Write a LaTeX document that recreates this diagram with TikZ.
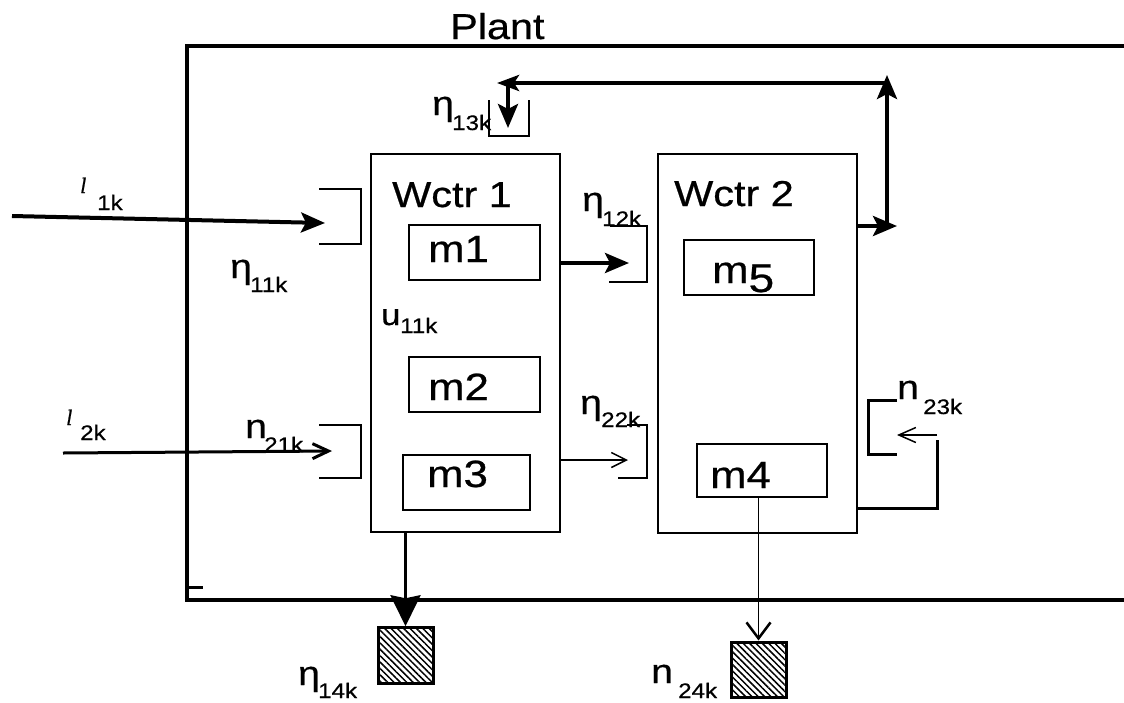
\documentclass[tikz,border=0pt]{standalone}
\usepackage{fontspec}
\setmainfont{Liberation Sans}[FakeStretch=1.15,FakeBold=0.6]
\newfontfamily\lserif{Liberation Serif}[FakeBold=0.6]
\usetikzlibrary{arrows.meta,patterns.meta}
\newcommand\bigf{\fontsize{36}{36}\selectfont}
\newcommand\letf{\fontsize{34}{34}\selectfont}
\newcommand\subf{\fontsize{21}{21}\selectfont}
\newcommand\mf{\fontsize{38}{38}\selectfont}
\newcommand\elf{\lserif\itshape\fontsize{22}{22}\selectfont}
\begin{document}
\begin{tikzpicture}[x=1pt,y=-1pt,
  thickln/.style={line width=4pt},
  medln/.style={line width=3pt},
  thinln/.style={line width=1.5pt},
  boxst/.style={draw,line width=1.6pt,inner sep=0pt},
  mboxst/.style={draw,line width=2pt,inner sep=0pt},
  hatchst/.style={draw,line width=3pt,inner sep=0pt,pattern={Lines[angle=-45,distance=4.5pt,line width=1.5pt]}},
  lab/.style={inner sep=0pt,anchor=base west},
  thickarr/.style={thickln,-{Stealth[length=24pt,width=20pt,inset=5pt]}},
  thinarr/.style={thinln,-{Straight Barb[length=15pt,width=15pt]}}]
\useasboundingbox (0,0) rectangle (1124,702);
\fill[white] (0,0) rectangle (1124,702);

% plant frame
\coordinate (ptr) at (1130,46); \coordinate (ptl) at (187,46);
\coordinate (pbl) at (187,600); \coordinate (pbr) at (1130,600);
\draw[thickln] (ptr) -- (ptl) -- (pbl) -- (pbr);
\draw[medln] (187,587) -- (203,587);
\node[lab] (plant) at (450,39) {\bigf Plant};

% work centres
\node[boxst,minimum width=189pt,minimum height=378pt] (wc1) at (465.5,343) {};
\node[boxst,minimum width=199pt,minimum height=379pt] (wc2) at (757.5,343.5) {};
\node[lab] (wc1t) at (392,207) {\bigf Wctr 1};
\node[lab] (wc2t) at (674,206) {\bigf Wctr 2};

% machines
\node[mboxst,minimum width=131pt,minimum height=55pt] (m1) at (474.5,252.5) {};
\node[mboxst,minimum width=131pt,minimum height=55pt] (m2) at (474.5,384.5) {};
\node[mboxst,minimum width=127pt,minimum height=55pt] (m3) at (466.5,482.5) {};
\node[mboxst,minimum width=130pt,minimum height=55pt] (m5) at (749,267.5) {};
\node[mboxst,minimum width=130pt,minimum height=53pt] (m4) at (762,470.5) {};
\node[lab] (m1t) at (428,262) {\mf m1};
\node[lab] (m2t) at (428,400) {\mf m2};
\node[lab] (m3t) at (427,487) {\mf m3};
\node[lab] (m4t) at (710,488) {\mf m4};
\node[lab] (m5t) at (712,283) {\mf m\raisebox{-9pt}{\fontsize{40}{40}\selectfont 5}};

% brackets
\draw[thinln] (319,189) -- (361,189) -- (361,244) -- (319,244);
\draw[thinln] (319,425) -- (361,425) -- (361,478) -- (319,478);
\draw[thinln] (610,226) -- (647,226) -- (647,282) -- (609,282);
\draw[thinln] (627,425) -- (647,425) -- (647,478) -- (618,478);
\draw[thinln] (489,100) -- (489,136) -- (529,136) -- (529,100);
\draw[medln] (897,400) -- (868,400) -- (868,454) -- (897,454);

% inputs
\coordinate (l1s) at (12,216); \coordinate (l1e) at (325,223);
\draw[thickarr] (l1s) -- (l1e);
\coordinate (l2s) at (63,453); \coordinate (l2e) at (332,451);
\draw[medln,-{Straight Barb[length=16pt,width=15pt]}] (l2s) -- (l2e);

% flows between centres
\coordinate (a12) at (629,263);
\draw[thickarr] (wc1.east |- a12) -- (a12);
\coordinate (a22) at (628,460);
\draw[thinarr] (wc1.east |- a22) -- (a22);

% feedback from Wctr 2 to top
\coordinate (a3e) at (897,226);
\draw[thickarr] (wc2.east |- a3e) -- (a3e);
\coordinate (vb) at (887,226); \coordinate (vt) at (887,75);
\draw[thickarr] (vb) -- (vt);
\coordinate (hr) at (887,83); \coordinate (hl) at (497,83);
\draw[thickln,-{Stealth[length=22pt,width=16pt,inset=5pt]}] (hr) -- (hl);
\coordinate (dt) at (508,83); \coordinate (db) at (508,128);
\draw[thickarr] (dt) -- (db);

% n23k loop
\coordinate (f1) at (937,508); \coordinate (f2) at (937,440);
\draw[medln] (wc2.east |- f1) -- (f1) -- (f2);
\coordinate (r1) at (937,435); \coordinate (r2) at (897,435);
\draw[thinln,-{Straight Barb[length=17pt,width=15pt]}] (r1) -- (r2);

% outputs
\node[hatchst,minimum width=55pt,minimum height=56pt] (h14) at (405.5,655) {};
\draw[medln,-{Stealth[length=31pt,width=30pt,inset=3pt]}] (h14.north |- wc1.south) -- (h14.north);
\node[hatchst,minimum width=55pt,minimum height=55pt] (h24) at (758.5,669.5) {};
\draw[thinln,-{Straight Barb[length=16pt,width=24pt,line width=2.5pt]}] (h24.north |- m4.south) -- (h24.north);

% labels
\node[lab] (l1a) at (80,193) {\elf l};
\node[lab] (l1b) at (97,210) {\subf 1k};
\node[lab] (l2a) at (66,425) {\elf l};
\node[lab] (l2b) at (80,440) {\subf 2k};
\node[lab] (e11a) at (230,278) {\letf η};
\node[lab] (e11b) at (250,292) {\subf 11k};
\node[lab] (n21a) at (245,438) {\letf n};
\node[lab] (n21b) at (264,452) {\subf 21k};
\node[lab] (u11a) at (381,325) {\fontsize{30}{30}\selectfont u};
\node[lab] (u11b) at (400,333) {\subf 11k};
\node[lab] (e12a) at (582,211) {\letf η};
\node[lab] (e12b) at (602,226) {\subf 12k};
\node[lab] (e22a) at (580,414) {\letf η};
\node[lab] (e22b) at (601,427) {\subf 22k};
\node[lab] (e13a) at (432,115) {\letf η};
\node[lab] (e13b) at (452,130) {\subf 13k};
\node[lab] (n23a) at (897,399) {\letf n};
\node[lab] (n23b) at (923,414) {\subf 23k};
\node[lab] (e14a) at (298,685) {\letf η};
\node[lab] (e14b) at (318,698) {\subf 14k};
\node[lab] (n24a) at (651,683) {\letf n};
\node[lab] (n24b) at (678,698) {\subf 24k};
\end{tikzpicture}
\end{document}
